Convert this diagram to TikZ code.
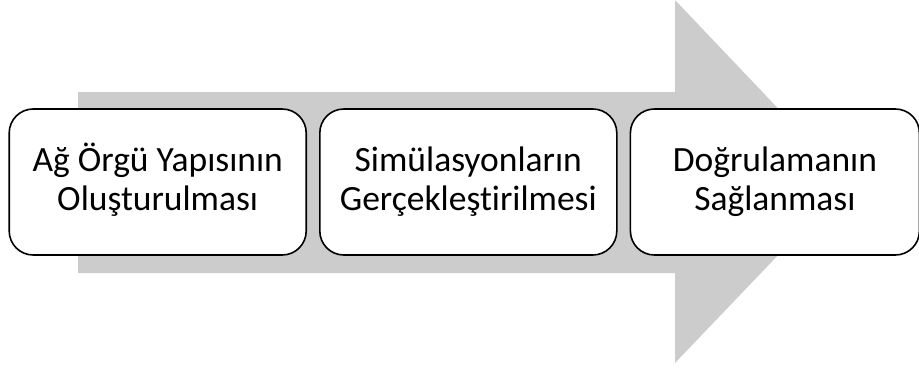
\documentclass[tikz,border=0pt]{standalone}
\usepackage{fontspec}
\setmainfont[Ligatures=NoCommon]{Carlito}
\usetikzlibrary{positioning}
\tikzset{
  stage/.style={draw=black,line width=1.6pt,fill=white,rounded corners=24pt,
    minimum width=297pt,minimum height=146pt,align=center,inner sep=0pt,
    text height=66pt,text depth=10pt,
    font=\fontsize{35.5}{38.5}\selectfont}
}

\begin{document}
\begin{tikzpicture}[x=1pt,y=-1pt]
  \useasboundingbox (0,0) rectangle (919,370);
  % big gray arrow behind the steps
  \fill[gray!40] (78,92) -- (675,92) -- (675,0) -- (848,182) -- (675,363)
    -- (675,273) -- (78,273) -- cycle;
  \node[stage] (mesh) at (157.7,182) {Ağ Örgü Yapısının\\Oluşturulması};
  \node[stage,right=12pt of mesh] (sim) {Simülasyonların\\Gerçekleştirilmesi};
  \node[stage,right=12pt of sim,minimum width=289pt] (valid) {Doğrulamanın\\Sağlanması};
\end{tikzpicture}
\end{document}
